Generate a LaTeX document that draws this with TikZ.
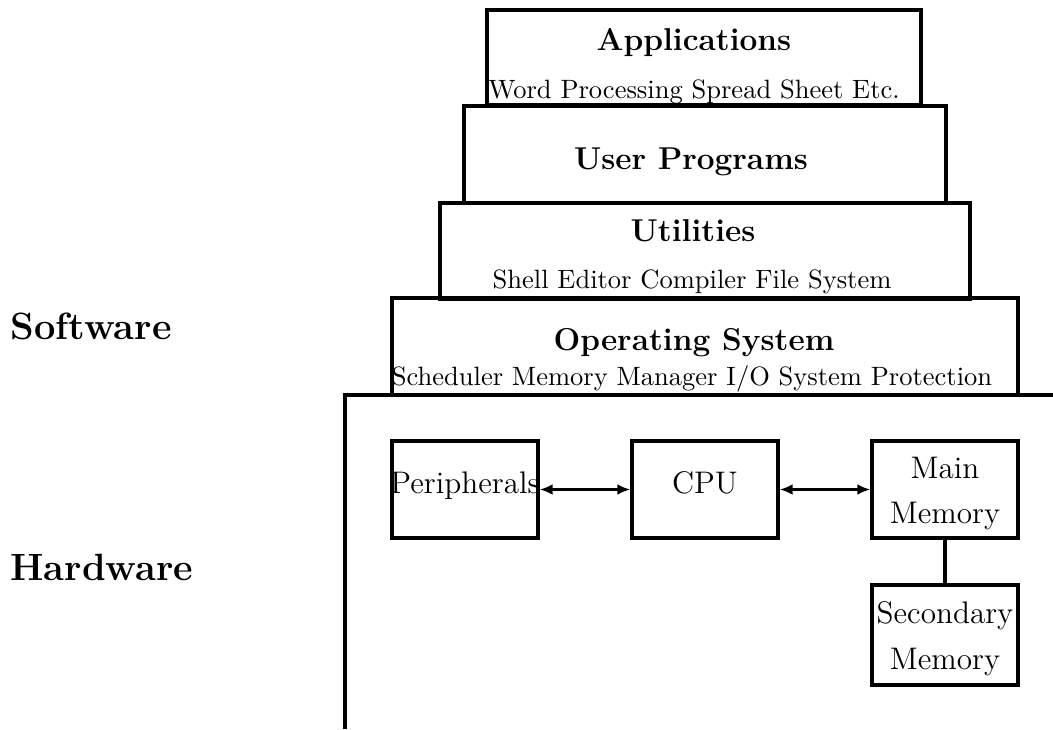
\documentclass[tikz,border=0pt]{standalone}
\usetikzlibrary{arrows.meta}
\begin{document}
\begin{tikzpicture}[x=0.5pt,y=-0.5pt,
  boxn/.style={draw,line width=1.7pt,inner sep=0pt},
  ttl/.style={font=\fontsize{15.8}{18}\selectfont\bfseries,anchor=base,inner sep=0pt},
  sub/.style={font=\fontsize{10}{12}\selectfont,anchor=base,inner sep=0pt,scale=1.3256},
  hwt/.style={font=\fontsize{12}{14}\selectfont,anchor=base,inner sep=0pt,scale=1.30},
  side/.style={font=\fontsize{19}{22}\selectfont\bfseries,anchor=base west,inner sep=0pt},
  conn/.style={line width=1.7pt},
  dbl/.style={line width=1.7pt,{Latex[length=6.5pt,width=5.5pt]}-{Latex[length=6.5pt,width=5.5pt]}}]
\useasboundingbox (0,0) rectangle (1053,729);
% pyramid boxes
\draw[boxn] (487,10) rectangle (921,105);
\draw[boxn] (464,106) rectangle (946,203);
\draw[boxn] (440,203) rectangle (970,299);
\draw[boxn] (392,298) rectangle (1018,395);
\node[ttl] (tapp) at (694,50) {Applications};
\node[sub] (sapp) at (694,98) {Word Processing Spread Sheet Etc.};
\node[ttl] (tusr) at (691,169) {User Programs};
\node[ttl] (tutl) at (693,241) {Utilities};
\node[sub] (sutl) at (692,288) {Shell Editor Compiler File System};
\node[ttl] (tos) at (694,350) {Operating System};
\node[sub] (sos) at (692,385) {Scheduler Memory Manager I/O System Protection};
% hardware frame
\coordinate (hw1) at (345,729);
\coordinate (hw2) at (345,395);
\coordinate (hw3) at (1053,395);
\draw[conn] (hw1) -- (hw2) -- (hw3);
% hardware boxes
\node[boxn,minimum width=73pt,minimum height=48.5pt] (per) at (465,489.5) {};
\node[boxn,minimum width=73pt,minimum height=48.5pt] (cpu) at (705,489.5) {};
\node[boxn,minimum width=73pt,minimum height=48.5pt] (mm) at (945,489.5) {};
\node[boxn,minimum width=73pt,minimum height=50pt] (sm) at (945,635) {};
\node[hwt] (tper) at (465,493) {Peripherals};
\node[hwt] (tcpu) at (705,493) {CPU};
\node[hwt] (tmm1) at (945,478) {Main};
\node[hwt] (tmm2) at (945,523) {Memory};
\node[hwt] (tsm1) at (945,623) {Secondary};
\node[hwt] (tsm2) at (945,669) {Memory};
\draw[dbl] (per.east) -- (cpu.west);
\draw[dbl] (cpu.east) -- (mm.west);
\draw[conn] (mm.south) -- (sm.north);
% side labels
\node[side] (sw) at (10,339) {Software};
\node[side] (hw) at (10,580) {Hardware};
\end{tikzpicture}
\end{document}
